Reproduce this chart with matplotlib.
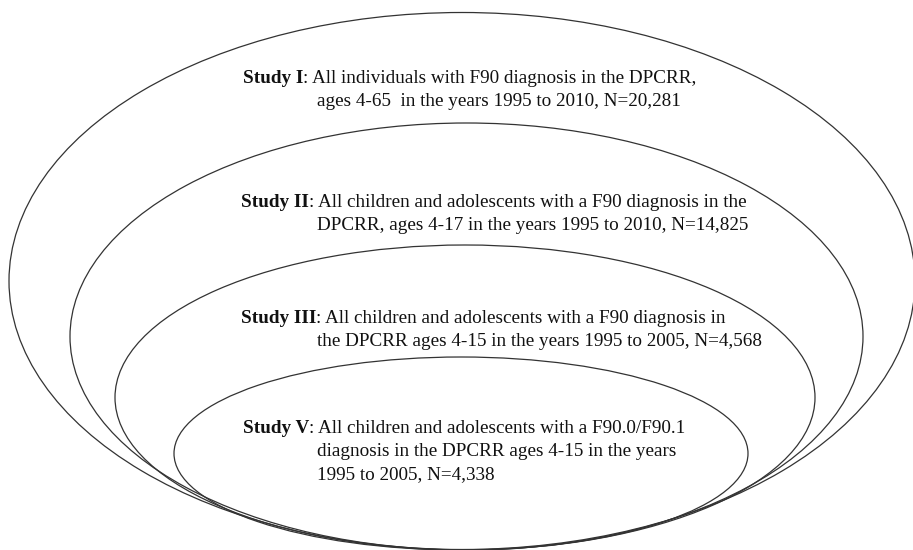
import matplotlib
matplotlib.use('Agg')
import matplotlib.pyplot as plt
from matplotlib.patches import Ellipse

plt.rcParams['font.family'] = ['Liberation Serif', 'DejaVu Serif']

# study names and text lines
study_names = ['Study I', 'Study II', 'Study III', 'Study V']
first_lines = [
    'All individuals with F90 diagnosis in the DPCRR,',
    'All children and adolescents with a F90 diagnosis in the',
    'All children and adolescents with a F90 diagnosis in',
    'All children and adolescents with a F90.0/F90.1',
]
more_lines = [
    ['ages 4-65  in the years 1995 to 2010, N=20,281'],
    ['DPCRR, ages 4-17 in the years 1995 to 2010, N=14,825'],
    ['the DPCRR ages 4-15 in the years 1995 to 2005, N=4,568'],
    ['diagnosis in the DPCRR ages 4-15 in the years', '1995 to 2005, N=4,338'],
]

# layout in pixels (y goes down)
ellipse_centers = [(462, 281), (466.5, 336.5), (465, 397.5), (461, 453.5)]
ellipse_sizes = [(906, 537), (793, 427), (700, 305), (574, 193)]
label_x = [243, 241, 241, 243]
label_y = [83, 207, 323, 433]
indent_x = [317, 317, 317, 317]
line_gap = 23
fsize = 13.8

fig = plt.figure(figsize=(9.13, 5.5), dpi=100)
ax = fig.add_axes([0, 0, 1, 1])
ax.set_xlim(0, 913)
ax.set_ylim(550, 0)
ax.axis('off')

# nested ellipses
for (cx, cy), (w, h) in zip(ellipse_centers, ellipse_sizes):
    ax.add_patch(Ellipse((cx, cy), w, h, fill=False, edgecolor='#333333', lw=0.9))

# labels: bold name, then normal text
for i, name in enumerate(study_names):
    t = ax.text(label_x[i], label_y[i], name, fontweight='bold', fontsize=fsize,
                va='baseline', color='#111111')
    ax.annotate(': ' + first_lines[i], xy=(1, 0), xycoords=t, va='bottom',
                fontsize=fsize, color='#111111')
    for j, line in enumerate(more_lines[i]):
        ax.text(indent_x[i], label_y[i] + (j + 1) * line_gap, line, fontsize=fsize,
                va='baseline', color='#111111')

fig.savefig('out.png', dpi=100)
